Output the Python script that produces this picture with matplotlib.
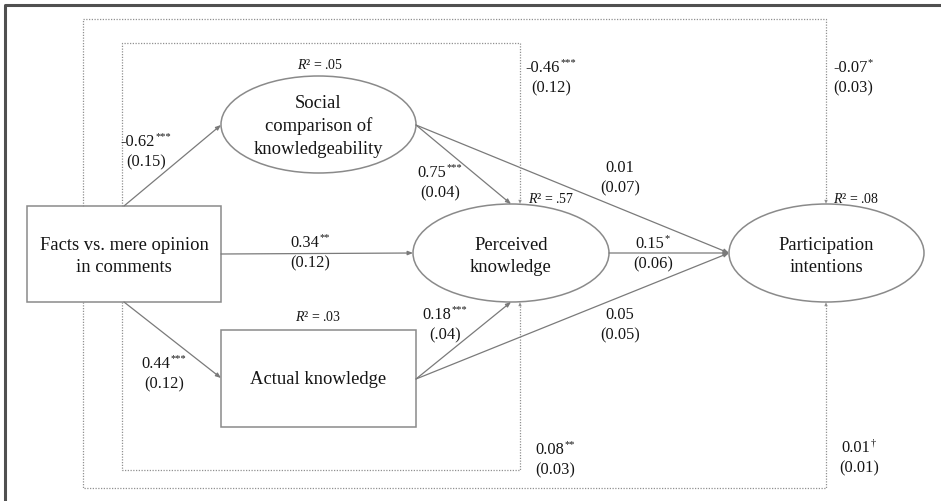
import matplotlib
matplotlib.use("Agg")
import matplotlib.pyplot as plt
from matplotlib.patches import Ellipse, Rectangle, FancyArrowPatch

plt.rcParams['font.family'] = ['Liberation Serif', 'DejaVu Serif']
plt.rcParams['mathtext.fontset'] = 'custom'
plt.rcParams['mathtext.rm'] = 'Liberation Serif'
plt.rcParams['mathtext.it'] = 'Liberation Serif:italic'

# ---------------- data ----------------
node_names = ['facts', 'social', 'perceived', 'participation', 'actual']
node_labels = ['Facts vs. mere opinion\nin comments',
               'Social\ncomparison of\nknowledgeability',
               'Perceived\nknowledge',
               'Participation\nintentions',
               'Actual knowledge']
r2_nodes = ['social', 'perceived', 'participation', 'actual']
r2_values = ['.05', '.57', '.08', '.03']

coef_values = ['-0.62', '0.75', '-0.46', '0.01', '-0.07', '0.34', '0.15',
               '0.18', '0.44', '0.05', '0.08', '0.01']
coef_sig = ['***', '***', '***', '', '*', '**', '*', '***', '***', '', '**', '†']
coef_se = ['(0.15)', '(0.04)', '(0.12)', '(0.07)', '(0.03)', '(0.12)', '(0.06)',
           '(.04)', '(0.12)', '(0.05)', '(0.03)', '(0.01)']

# ---------------- layout (pixel space) ----------------
W, H = 941, 501
node_shape = {'facts': 'box', 'social': 'ell', 'perceived': 'ell',
              'participation': 'ell', 'actual': 'box'}
node_pos = {'facts': (124, 254, 194, 96), 'social': (318.5, 124.5, 195, 97),
            'perceived': (511, 253, 196, 98), 'participation': (826.5, 253, 195, 98),
            'actual': (318.5, 378.5, 195, 97)}
node_text_y = {'facts': 245, 'social': 103, 'perceived': 245,
               'participation': 245, 'actual': 380}
line_step = {'facts': 22, 'social': 23, 'perceived': 22, 'participation': 22, 'actual': 22}
r2_pos = {'social': (320, 65), 'perceived': (551, 199),
          'participation': (856, 199), 'actual': (318, 317)}

solid_paths = [((124, 206), (221, 125)), ((221, 254), (413, 253)),
               ((124, 302), (221, 378)), ((416, 125), (511, 204)),
               ((416, 125), (729, 253)), ((609, 253), (729, 253)),
               ((416, 379), (511, 302)), ((416, 379), (729, 253))]
dotted_paths = [[(83, 206), (83, 19), (826, 19), (826, 204)],
                [(83, 302), (83, 488), (826, 488), (826, 302)],
                [(122, 206), (122, 43), (520, 43), (520, 204)],
                [(122, 302), (122, 470), (520, 470), (520, 302)]]
coef_pos = [(146, 142), (440, 173), (551, 68), (620, 168), (853, 68), (310, 243),
            (653, 244), (445, 315), (164, 364), (620, 315), (555, 450), (859, 448)]

edge_col = '#8a8a8a'
line_col = '#7a7a7a'
txt_col = '#151515'

fig = plt.figure(figsize=(W / 100, H / 100), dpi=100)
ax = fig.add_axes([0, 0, 1, 1])
ax.set_xlim(0, W)
ax.set_ylim(H, 0)
ax.axis('off')
renderer = fig.canvas.get_renderer()

# outer frame (top & left)
ax.plot([5, 5, W], [H, 4.5, 4.5], color='#505050', lw=2.2, solid_capstyle='butt')

# nodes
for name, label in zip(node_names, node_labels):
    cx, cy, w, h = node_pos[name]
    if node_shape[name] == 'box':
        ax.add_patch(Rectangle((cx - w / 2, cy - h / 2), w, h, fill=False,
                               ec=edge_col, lw=1.1))
    else:
        ax.add_patch(Ellipse((cx, cy), w, h, fill=False, ec=edge_col, lw=1.1))
    for i, ln in enumerate(label.split('\n')):
        ax.text(cx, node_text_y[name] + i * line_step[name], ln, ha='center',
                va='center', fontsize=13.4, color=txt_col)

for name, val in zip(r2_nodes, r2_values):
    x, y = r2_pos[name]
    ax.text(x, y, r'$R$² = ' + val, ha='center', va='center', fontsize=10,
            color=txt_col)

# solid arrows
for (p0, p1) in solid_paths:
    ax.add_patch(FancyArrowPatch(p0, p1, arrowstyle='-|>,head_length=3,head_width=1.2',
                                 color=line_col, lw=0.9, shrinkA=0, shrinkB=0,
                                 mutation_scale=1))

# dotted paths
for path in dotted_paths:
    xs = [p[0] for p in path]
    ys = [p[1] for p in path]
    ax.plot(xs, ys[:-1] + [ys[-1] + (2 if ys[-1] < ys[-2] else -2)],
            color='#909090', lw=0.9, ls=(0, (1, 1.2)))
    ax.add_patch(FancyArrowPatch(path[-2], path[-1],
                                 arrowstyle='-|>,head_length=3,head_width=1.2',
                                 color='#909090', lw=0, shrinkA=0, shrinkB=0,
                                 mutation_scale=1))

# coefficients (value + small superscript, centred as a whole)
for (x, y), v, s, se in zip(coef_pos, coef_values, coef_sig, coef_se):
    t = ax.text(x, y, v, ha='left', va='center', fontsize=11.8, color=txt_col)
    wv = t.get_window_extent(renderer).width
    ws = 0
    if s:
        st = ax.text(x, y - 5, s, ha='left', va='center', fontsize=7.5,
                     color=txt_col)
        ws = st.get_window_extent(renderer).width + 0.5
    x0 = x - (wv + ws) / 2
    t.set_x(x0)
    if s:
        st.set_x(x0 + wv + 0.5)
    ax.text(x, y + 20, se, ha='center', va='center', fontsize=11.8, color=txt_col)

fig.savefig('out.png', dpi=100)
